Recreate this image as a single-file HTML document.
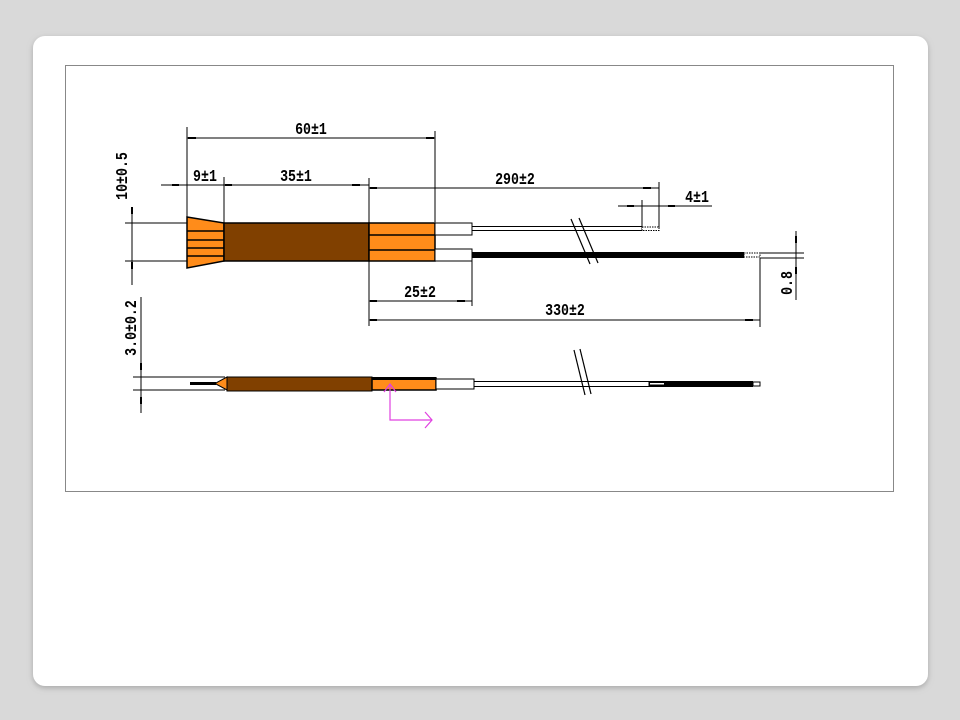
<!DOCTYPE html>
<html><head><meta charset="utf-8"><style>
html,body{margin:0;padding:0;background:#d9d9d9;width:960px;height:720px;overflow:hidden}
</style></head><body>
<svg width="960" height="720" viewBox="0 0 960 720" xmlns="http://www.w3.org/2000/svg" font-family="Liberation Sans, sans-serif">
<defs><filter id="sh" x="-5%" y="-5%" width="110%" height="110%"><feDropShadow dx="0" dy="2" stdDeviation="3" flood-color="#888" flood-opacity="0.6"/></filter></defs>
<rect x="33" y="36" width="895" height="650" rx="12" fill="#fff" filter="url(#sh)"/>
<rect x="65.5" y="65.5" width="828" height="426" fill="#fff" stroke="#888" stroke-width="1"/>
<g stroke="#000" stroke-width="1" fill="none">
<line x1="187" y1="127" x2="187" y2="220"/>
<line x1="435" y1="131" x2="435" y2="222"/>
<line x1="224" y1="177" x2="224" y2="223"/>
<line x1="369" y1="178" x2="369" y2="223"/>
<line x1="659" y1="182" x2="659" y2="228"/>
<line x1="642" y1="200" x2="642" y2="227"/>
<line x1="125" y1="223" x2="187" y2="223"/>
<line x1="125" y1="261" x2="187" y2="261"/>
<line x1="132" y1="208" x2="132" y2="285"/>
<line x1="369" y1="261" x2="369" y2="326"/>
<line x1="472" y1="261" x2="472" y2="306"/>
<line x1="760" y1="258" x2="760" y2="327"/>
<line x1="760" y1="253" x2="804" y2="253"/>
<line x1="760" y1="258" x2="804" y2="258"/>
<line x1="796" y1="231" x2="796" y2="300"/>
<line x1="187" y1="138" x2="435" y2="138"/>
<line x1="161" y1="185" x2="369" y2="185"/>
<line x1="369" y1="188" x2="659" y2="188"/>
<line x1="618" y1="206" x2="712" y2="206"/>
<line x1="369" y1="301" x2="472" y2="301"/>
<line x1="369" y1="320" x2="760" y2="320"/>
<line x1="141" y1="297" x2="141" y2="413"/>
<line x1="133" y1="377" x2="225" y2="377"/>
<line x1="133" y1="390" x2="225" y2="390"/>
</g>
<g fill="#000">
<rect x="188" y="137" width="8" height="2"/><rect x="426" y="137" width="8" height="2"/>
<rect x="172" y="184" width="7" height="2"/><rect x="225" y="184" width="7" height="2"/><rect x="352" y="184" width="8" height="2"/>
<rect x="370" y="187" width="7" height="2"/><rect x="643" y="187" width="8" height="2"/>
<rect x="627" y="205" width="7" height="2"/><rect x="668" y="205" width="7" height="2"/>
<rect x="370" y="300" width="7" height="2"/><rect x="457" y="300" width="8" height="2"/>
<rect x="370" y="319" width="7" height="2"/><rect x="745" y="319" width="8" height="2"/>
<rect x="131" y="207" width="2" height="7"/><rect x="131" y="262" width="2" height="7"/>
<rect x="795" y="236" width="2" height="7"/><rect x="795" y="267" width="2" height="7"/>
<rect x="140" y="363" width="2" height="7"/><rect x="140" y="397" width="2" height="7"/>
</g>
<polygon points="187,217 224,223 224,261 187,268" fill="#ff8c1a" stroke="#000" stroke-width="1.5"/>
<g stroke="#000" stroke-width="1.5"><line x1="187" y1="231" x2="224" y2="231"/><line x1="187" y1="240" x2="224" y2="240"/><line x1="187" y1="248" x2="224" y2="248"/><line x1="187" y1="256" x2="224" y2="256"/></g>
<rect x="224" y="223" width="145" height="38" fill="#804000" stroke="#000" stroke-width="1.5"/>
<rect x="369" y="223" width="66" height="38" fill="#ff8c1a" stroke="#000" stroke-width="1.5"/>
<g stroke="#000" stroke-width="1.5"><line x1="369" y1="235" x2="435" y2="235"/><line x1="369" y1="250" x2="435" y2="250"/></g>
<rect x="435" y="223" width="37" height="12" fill="#fff" stroke="#000"/>
<rect x="435" y="249" width="37" height="12" fill="#fff" stroke="#000"/>
<rect x="472" y="226.5" width="170" height="4" fill="#fff" stroke="#000"/>
<rect x="642" y="227" width="17" height="3.5" fill="#fff" stroke="#000" stroke-dasharray="1.5 1"/>
<rect x="472" y="252" width="272" height="6" fill="#000"/>
<rect x="744" y="253" width="16" height="4" fill="#fff" stroke="#000" stroke-dasharray="1.5 1"/>
<g stroke="#000" stroke-width="1.2"><line x1="571" y1="219" x2="590" y2="264"/><line x1="579" y1="218" x2="598" y2="263"/></g>
<line x1="190" y1="383.5" x2="216" y2="383.5" stroke="#000" stroke-width="3"/>
<polygon points="215,383.5 227,377 227,390" fill="#ff8c1a" stroke="#000"/>
<rect x="227" y="377" width="145" height="14" fill="#804000" stroke="#000"/>
<rect x="372" y="378" width="64" height="12" fill="#ff8c1a" stroke="#000" stroke-width="1.5"/>
<line x1="372" y1="378.5" x2="436" y2="378.5" stroke="#000" stroke-width="3"/>
<rect x="436" y="379" width="38" height="10" fill="#fff" stroke="#000"/>
<rect x="474" y="381.5" width="175" height="5" fill="#fff" stroke="#000"/>
<rect x="649" y="381" width="104" height="6" fill="#000"/>
<rect x="650" y="383" width="14" height="1.5" fill="#fff"/>
<rect x="753" y="382" width="7" height="4" fill="#fff" stroke="#000"/>
<g stroke="#000" stroke-width="1.2"><line x1="574" y1="350" x2="585" y2="395"/><line x1="580" y1="349" x2="591" y2="394"/></g>
<g stroke="#e040e0" stroke-width="1.2" fill="none">
<polyline points="390,384 390,420 432,420"/>
<polyline points="425,412 432,420 425,428"/>
<polyline points="384,392 390,384 396,392"/>
</g>
<g font-size="17" font-weight="bold" fill="#000" text-anchor="middle" font-family="Liberation Mono, monospace">
<text x="311" y="134" transform="translate(311 0) scale(0.78 1) translate(-311 0)">60±1</text>
<text x="205" y="181" transform="translate(205 0) scale(0.78 1) translate(-205 0)">9±1</text>
<text x="296" y="181" transform="translate(296 0) scale(0.78 1) translate(-296 0)">35±1</text>
<text x="515" y="184" transform="translate(515 0) scale(0.78 1) translate(-515 0)">290±2</text>
<text x="697" y="202" transform="translate(697 0) scale(0.78 1) translate(-697 0)">4±1</text>
<text x="420" y="297" transform="translate(420 0) scale(0.78 1) translate(-420 0)">25±2</text>
<text x="565" y="315" transform="translate(565 0) scale(0.78 1) translate(-565 0)">330±2</text>
<text transform="translate(127 176) rotate(-90) scale(0.78 1)">10±0.5</text>
<text transform="translate(136 328) rotate(-90) scale(0.78 1)">3.0±0.2</text>
<text transform="translate(792 283) rotate(-90) scale(0.78 1)">0.8</text>
</g>
</svg>
</body></html>
